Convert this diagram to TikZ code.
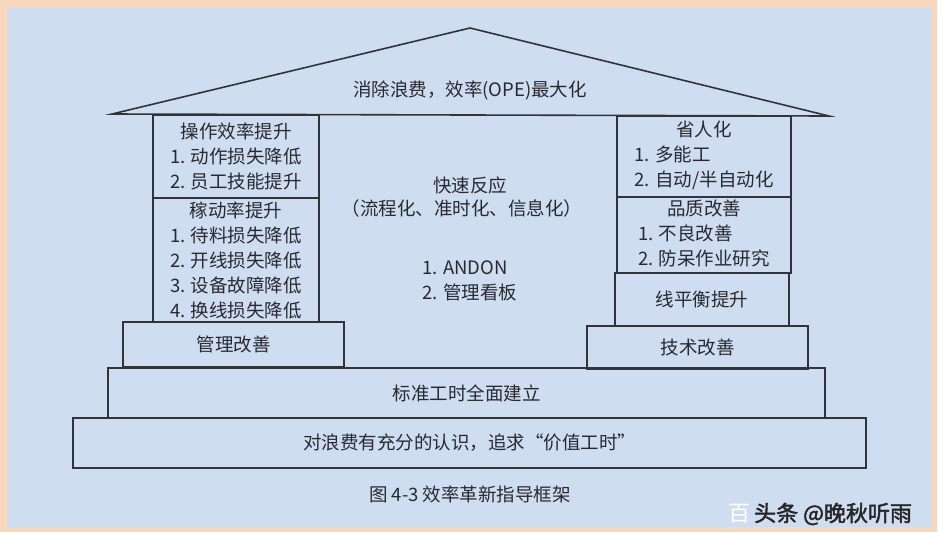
\documentclass[tikz,border=0pt]{standalone}
\usepackage{fontspec}
\setmainfont{Noto Sans CJK SC}
\newfontfamily\wmfont{Noto Sans CJK SC}[FakeBold=2]
\definecolor{bgblue}{RGB}{206,221,240}
\definecolor{peach}{RGB}{247,216,188}
\definecolor{linec}{RGB}{50,52,58}
\definecolor{txt}{RGB}{40,42,48}
\newcommand{\fsmain}{\fontsize{18.5}{25}\selectfont}
\begin{document}
\begin{tikzpicture}[x=1pt,y=-1pt,
  frame/.style={draw=linec,line width=1.6pt,inner sep=0pt,text=txt,font=\fsmain,align=center},
  lbl/.style={text=txt,inner sep=0pt,font=\fsmain}]
\useasboundingbox (0,0) rectangle (944,542);
\fill[white] (0,0) rectangle (944,542);
\fill[peach] (0,0) rectangle (937,532);
\fill[bgblue] (7,8) rectangle (932,527);
% roof
\coordinate (apex) at (470,28);
\coordinate (eaveL) at (112,114);
\coordinate (eaveR) at (829,116);
\draw[linec,line width=1.6pt,line join=miter] (eaveL) -- (apex) -- (eaveR) -- cycle;
\node[lbl] (roof) at (470,90) {消除浪费，效率(OPE)最大化};
% left column
\node[frame,minimum width=166pt,minimum height=83pt] (op) at (236,156.5)
  {操作效率提升\\1. 动作损失降低\\2. 员工技能提升};
\node[frame,minimum width=166pt,minimum height=124pt] (ka) at (236,260)
  {稼动率提升\\1. 待料损失降低\\2. 开线损失降低\\3. 设备故障降低\\4. 换线损失降低};
\node[frame,minimum width=221pt,minimum height=45pt] (mg) at (233.5,344.5) {管理改善};
% right column
\node[frame,minimum width=174pt,minimum height=81pt] (sr) at (704,156.5)
  {\begin{tabular}{@{}l@{}}\multicolumn{1}{@{}c@{}}{省人化}\\1. 多能工\\2. 自动/半自动化\end{tabular}};
\node[frame,minimum width=174pt,minimum height=76pt] (pz) at (704,235)
  {\begin{tabular}{@{}l@{}}\multicolumn{1}{@{}c@{}}{品质改善}\\1. 不良改善\\2. 防呆作业研究\end{tabular}};
\node[frame,minimum width=174pt,minimum height=53pt] (xp) at (702,299.5) {线平衡提升};
\node[frame,minimum width=221pt,minimum height=43pt] (js) at (697.5,347.5) {技术改善};
% center
\node[lbl] (fast) at (470,185) {快速反应};
\node[lbl] (fastsub) at (462,208) {（流程化、准时化、信息化）};
\node[lbl,align=left,anchor=west] (andon) at (422,280.5) {1. ANDON\\2. 管理看板};
% base steps
\node[frame,minimum width=717pt,minimum height=50pt] (bz) at (466.5,393) {标准工时全面建立};
\node[frame,minimum width=793pt,minimum height=50pt] (base) at (469.5,443) {对浪费有充分的认识，追求“价值工时”};
% caption
\node[lbl,font=\fontsize{18.5}{22}\selectfont] (cap) at (470,494) {图 4-3\ 效率革新指导框架};
% watermark
\node[inner sep=0pt,text=white,font=\fontsize{22}{24}\selectfont,anchor=west] (wmA) at (728,514) {百};
\node[inner sep=0pt,text=black!85,font=\wmfont\fontsize{22}{24}\selectfont,anchor=west] (wmB) at (754,514) {头条 @晚秋听雨};
\end{tikzpicture}
\end{document}
